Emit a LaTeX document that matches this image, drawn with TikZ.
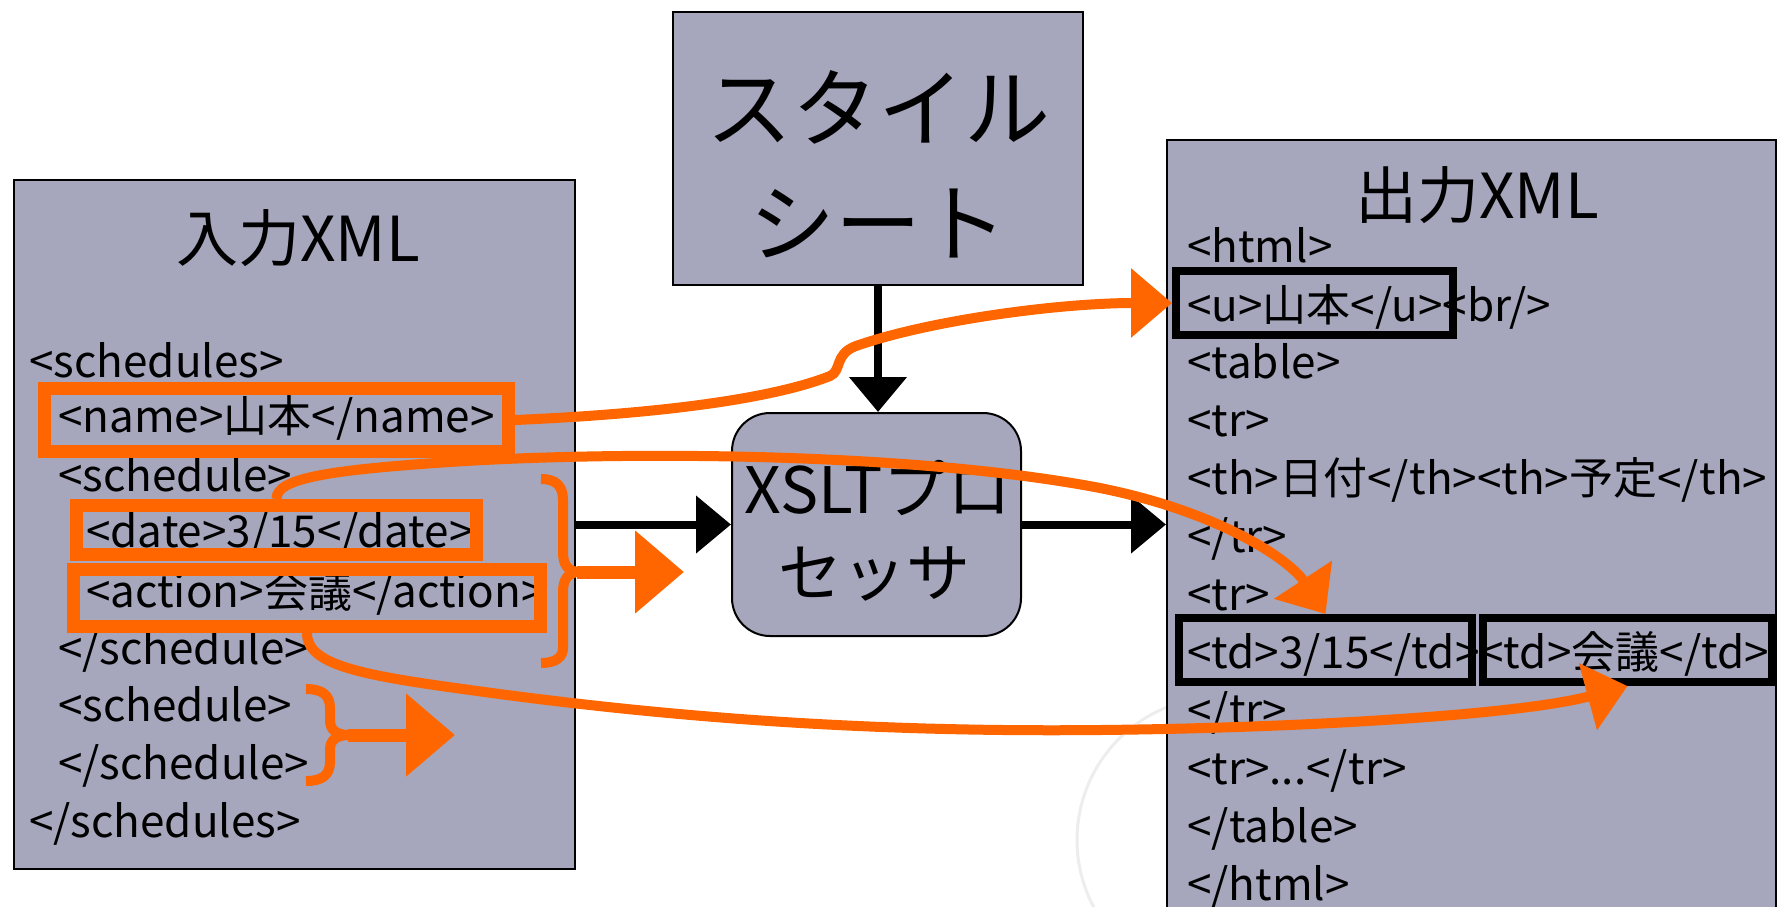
\documentclass[tikz,border=0pt]{standalone}
\usepackage{fontspec}
\setmainfont{Noto Sans CJK JP}
\usetikzlibrary{arrows.meta}
\definecolor{boxfill}{RGB}{166,166,189}
\definecolor{xorange}{RGB}{255,102,0}
\begin{document}
\begin{tikzpicture}[x=1pt,y=-1pt,
  bigbox/.style={draw=black, line width=2pt, fill=boxfill, inner sep=0pt},
  obox/.style={draw=xorange, line width=13pt, inner sep=0pt},
  kbox/.style={draw=black, line width=8pt, inner sep=0pt},
  txt/.style={anchor=base west, inner sep=0pt, font=\fontsize{44}{50}\selectfont},
  ttl/.style={anchor=base, inner sep=0pt, font=\fontsize{62}{70}\selectfont},
  karrow/.style={draw=black, line width=8pt, -{Triangle[length=35pt,width=56pt]}},
  oarrow/.style={draw=xorange, line width=10pt, -{Triangle[length=41pt,width=67pt]}},
  bracearrow/.style={draw=xorange, line width=13pt, -{Triangle[length=49pt,width=80pt]}},
  bracestyle/.style={draw=xorange, line width=10pt}]
\useasboundingbox (0,0) rectangle (1778,906);
\clip (0,0) rectangle (1778,906);

% faint background arc
\draw[black!7, line width=3pt] (1220,840) circle[radius=143];

% big boxes
\node[bigbox, minimum width=561pt, minimum height=689pt] (inbox) at (294.5,524.5) {};
\node[bigbox, minimum width=410pt, minimum height=273pt] (sheet) at (878,148.5) {};
\node[bigbox, rounded corners=38pt, minimum width=289pt, minimum height=223pt] (proc) at (876.5,524.5) {};
\node[bigbox, minimum width=609pt, minimum height=800pt] (outbox) at (1471.5,540) {};

% titles
\node[ttl] (intitle) at (298,261) {入力XML};
\node[ttl] (outtitle) at (1477,218) {出力XML};
\node[anchor=base, inner sep=0pt, font=\fontsize{86}{90}\selectfont] (sh1) at (878,140) {スタイル};
\node[anchor=base, inner sep=0pt, font=\fontsize{86}{90}\selectfont] (sh2) at (878,255) {シート};
\node[anchor=base, inner sep=0pt, font=\fontsize{64}{70}\selectfont] (pr1) at (878,513) {XSLTプロ};
\node[anchor=base, inner sep=0pt, font=\fontsize{64}{70}\selectfont] (pr2) at (874,596) {セッサ};

% input XML lines
\node[txt] (l1) at (29,377) {<schedules>};
\node[txt] (l2) at (58,432) {<name>山本</name>};
\node[txt] (l3) at (58,491) {<schedule>};
\node[txt] (l4) at (86,547) {<date>3/15</date>};
\node[txt] (l5) at (86,607) {<action>会議</action>};
\node[txt] (l6) at (58,664) {</schedule>};
\node[txt] (l7) at (58,721) {<schedule>};
\node[txt] (l8) at (58,779) {</schedule>};
\node[txt] (l9) at (29,837) {</schedules>};

% output XML lines
\node[txt] (r1) at (1187,262) {<html>};
\node[txt] (r2) at (1187,321) {<u>山本</u><br/>};
\node[txt] (r3) at (1187,378) {<table>};
\node[txt] (r4) at (1187,436) {<tr>};
\node[txt] (r5) at (1187,494) {<th>日付</th><th>予定</th>};
\node[txt] (r6) at (1187,552) {</tr>};
\node[txt] (r7) at (1187,610) {<tr>};
\node[txt] (r8) at (1187,668) {<td>3/15</td><td>会議</td>};
\node[txt] (r9) at (1187,726) {</tr>};
\node[txt] (r10) at (1187,784) {<tr>...</tr>};
\node[txt] (r11) at (1187,842) {</table>};
\node[txt] (r12) at (1187,900) {</html>};

% black arrows
\draw[karrow] (sheet.south) -- (sheet.south |- proc.north);
\draw[karrow] (proc.west -| inbox.east) -- (proc.west);
\draw[karrow] (proc.east) -- (proc.east -| outbox.west);

% black highlight boxes
\node[kbox, minimum width=277pt, minimum height=64pt] (ubox) at (1314.5,303) {};
\node[kbox, minimum width=293pt, minimum height=64pt] (td1) at (1325.5,650) {};
\node[kbox, minimum width=289pt, minimum height=64pt] (td2) at (1627.5,650) {};

% orange highlight boxes
\node[obox, minimum width=464pt, minimum height=63pt] (namebox) at (276.5,420) {};
\node[obox, minimum width=400pt, minimum height=49pt] (datebox) at (276.5,530) {};
\node[obox, minimum width=467pt, minimum height=57pt] (actionbox) at (307,598) {};

% braces
\draw[bracestyle] (541,479) .. controls (556,479) and (563,486) .. (563,500) -- (563,552)
  .. controls (563,565) and (568,572) .. (580,572)
  .. controls (568,572) and (563,579) .. (563,592) -- (563,648)
  .. controls (563,657) and (556,663) .. (541,663);
\draw[bracestyle] (306,689) .. controls (322,689) and (330,695) .. (330,708) -- (330,720)
  .. controls (330,730) and (336,735) .. (350,735)
  .. controls (336,735) and (330,740) .. (330,750) -- (330,762)
  .. controls (330,775) and (322,781) .. (306,781);
\coordinate (b1tip) at (577,572);
\coordinate (b1end) at (684,572);
\coordinate (b2tip) at (348,735);
\coordinate (b2end) at (455,735);
\draw[bracearrow] (b1tip) -- (b1end);
\draw[bracearrow] (b2tip) -- (b2end);

% orange connectors
\draw[oarrow] (namebox.east) .. controls (700,412) and (790,392) .. (830,376)
  .. controls (842,371) and (834,354) .. (856,346)
  .. controls (930,320) and (1060,303) .. (ubox.west);
\draw[oarrow] (datebox.north) .. controls (276,478) and (330,470) .. (450,462)
  .. controls (600,452) and (900,450) .. (1100,488)
  .. controls (1220,512) and (1290,560) .. (td1.north);
\draw[oarrow] (actionbox.south) .. controls (307,665) and (360,675) .. (470,690)
  .. controls (700,722) and (900,732) .. (1100,730)
  .. controls (1300,728) and (1520,715) .. (td2.south);
\end{tikzpicture}
\end{document}
